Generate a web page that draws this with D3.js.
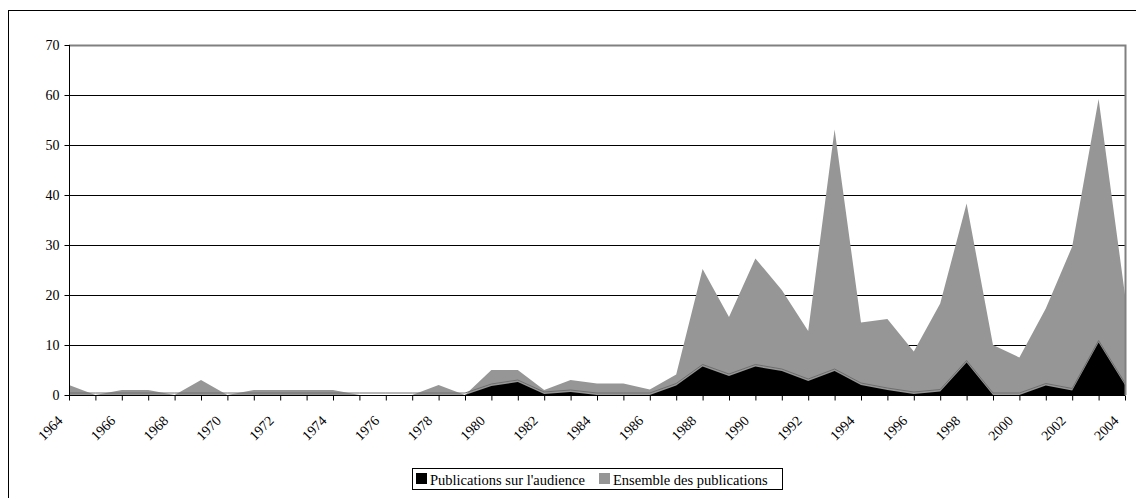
<!DOCTYPE html>
<html><head><meta charset="utf-8">
<script src="https://cdn.jsdelivr.net/npm/d3@7"></script>
<style>
html,body{margin:0;padding:0;background:#fff;}
svg{display:block;}
</style></head>
<body>
<svg id="chart" width="1136" height="498"></svg>
<script>
const years = d3.range(1964, 2005);
const audience = [0,0,0,0,0,0,0,0,0,0,0,0,0,0,0,0,1.8,2.6,0.2,0.6,0,0,0,1.9,5.7,3.8,5.7,4.8,2.8,4.8,2,1,0.2,0.7,6.5,0,0,1.9,0.9,10.5,2];
const total = [2,0,1,1,0,3,0,1,1,1,1,0,0,0,2,0,5,5,1,3,2.3,2.3,1.1,4.1,25.2,15.6,27.3,21,12.8,53.1,14.5,15.2,8.7,18.3,38.3,10,7.5,17.3,29.7,59.2,20];
const yTicks = [0,10,20,30,40,50,60,70];
const seriesNames = ["Publications sur l'audience", "Ensemble des publications"];
const seriesColors = ["#000000", "#969696"];

const FONT = "Liberation Serif, Tinos, Nimbus Roman, DejaVu Serif, serif";
const svg = d3.select("#chart");
const L = 69, R = 1125, T = 45, B = 395;
const x = d3.scaleLinear().domain([1964, 2004]).range([L, R]);
const y = d3.scaleLinear().domain([0, 70]).range([B, T]);

// outer frame
svg.append("rect").attr("x", 8.5).attr("y", 10.5).attr("width", 1140).attr("height", 500)
  .attr("fill", "none").attr("stroke", "#000").attr("stroke-width", 1);

// gridlines
svg.append("g").selectAll("line").data(yTicks.filter(v => v > 0 && v < 70)).join("line")
  .attr("x1", L).attr("x2", R).attr("y1", d => Math.round(y(d)) + 0.5).attr("y2", d => Math.round(y(d)) + 0.5)
  .attr("stroke", "#000").attr("stroke-width", 1);

// areas
const areaTotal = d3.area().x((d, i) => x(years[i])).y0(y(0)).y1(d => y(d));
svg.append("path").datum(total).attr("d", areaTotal).attr("fill", seriesColors[1]);
const areaAud = d3.area().x((d, i) => x(years[i])).y0(y(0)).y1(d => y(d));
svg.append("path").datum(audience).attr("d", areaAud).attr("fill", seriesColors[0]);
const lineAud = d3.line().x((d, i) => x(years[i])).y(d => y(d) - 2);
svg.append("path").datum(audience).attr("d", lineAud).attr("fill", "none")
  .attr("stroke", "#6e6e6e").attr("stroke-width", 1);

// plot border top/right
svg.append("path").attr("d", `M${L},${T + 0.5}H${R + 0.5}V${B}`).attr("fill", "none")
  .attr("stroke", "#808080").attr("stroke-width", 2);

// y axis
const yAxis = svg.append("g").attr("transform", `translate(${L + 0.5},0)`)
  .call(d3.axisLeft(y).tickValues(yTicks).tickSize(5).tickPadding(5).tickFormat(d3.format("d")));
yAxis.attr("font-family", FONT).attr("font-size", 14);
yAxis.select(".domain").attr("stroke", "#000").attr("d", `M0,${T}V${B}`);
yAxis.selectAll("text").attr("font-family", FONT).attr("font-size", 14).attr("dy", "0.34em");

// x axis
const xAxis = svg.append("g").attr("transform", `translate(0,${B + 0.5})`)
  .call(d3.axisBottom(x).tickValues(years).tickSize(5).tickFormat(d => d % 2 === 0 ? String(d) : ""));
xAxis.attr("font-family", FONT).attr("font-size", 14);
xAxis.select(".domain").attr("stroke", "#000").attr("d", `M${L},0H${R}`);
xAxis.selectAll("text").attr("font-family", FONT).attr("font-size", 14)
  .attr("text-anchor", "end").attr("dy", null).attr("y", 0)
  .attr("transform", "translate(-6,26) rotate(-45)");

// legend
const lg = svg.append("g");
lg.append("rect").attr("x", 412.5).attr("y", 468.5).attr("width", 370).attr("height", 21)
  .attr("fill", "#fff").attr("stroke", "#000");
const legX = [416, 599];
seriesNames.forEach((n, i) => {
  lg.append("rect").attr("x", legX[i]).attr("y", 473).attr("width", 11).attr("height", 11)
    .attr("fill", seriesColors[i]);
  lg.append("text").attr("x", legX[i] + 14).attr("y", 485)
    .attr("font-family", FONT).attr("font-size", 14.5).text(n);
});
</script>
</body></html>
